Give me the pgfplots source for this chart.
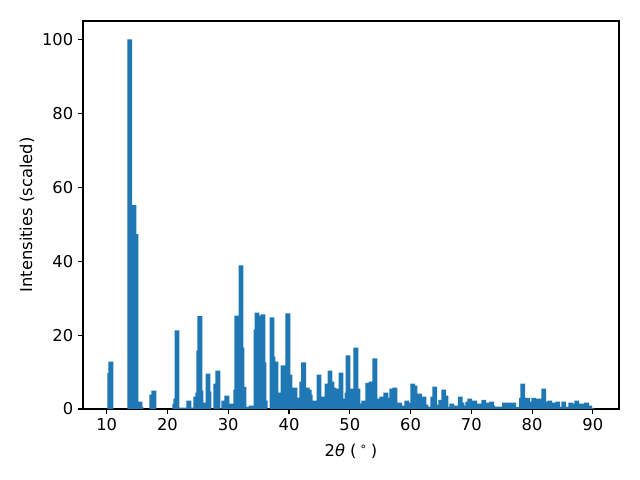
\documentclass[border=0pt]{standalone}
\usepackage{fontspec}
\setmainfont{DejaVu Sans}
\usepackage{pgfplots}
\usepackage{pgfplotstable}
\pgfplotsset{compat=1.18}
\definecolor{c0}{HTML}{1F77B4}

\pgfplotstableread{
x h
10.52 9.7
10.69 12.8
13.79 100
14.49 55.2
14.82 47.3
15.48 2.0
15.64 0.6
17.43 3.9
17.77 5.0
21.21 1.35
21.38 2.8
21.56 21.3
22.37 0.4
22.72 0.4
23.53 2.25
24.30 0.4
24.67 3.34
25.00 4.43
25.17 15.8
25.34 25.1
25.52 5.0
25.85 1.7
26.66 9.6
26.84 4.7
27.97 6.9
28.30 10.4
29.28 2.25
29.78 3.6
30.45 1.44
31.25 5.24
31.42 25.3
32.09 38.9
32.27 16.6
32.60 6.0
33.10 0.6
33.76 0.9
34.56 21.5
34.73 26.1
34.91 25.3
35.72 25.6
35.89 12.6
36.06 2.25
37.20 24.8
37.37 14.2
37.86 12.8
38.19 4.43
39.00 11.8
39.82 25.9
40.16 9.3
40.97 5.8
41.79 3.1
42.12 7.4
42.40 12.6
43.00 5.8
43.30 5.24
43.47 3.9
43.80 1.44
44.12 2.25
44.93 9.3
45.75 3.34
46.24 6.87
46.74 10.4
47.08 7.4
47.41 5.8
48.21 5.5
48.55 9.85
49.36 2.8
49.53 4.43
49.70 14.5
50.51 5.5
51.01 16.6
51.35 5.5
51.52 1.44
52.30 2.25
52.98 7.1
53.48 7.4
54.13 13.7
54.30 0.9
54.46 2.8
55.26 3.34
55.93 4.43
56.10 3.0
56.90 5.5
57.41 5.8
58.23 1.7
58.57 0.9
59.38 2.25
59.56 1.7
60.37 6.87
60.71 6.3
61.52 4.15
62.19 3.34
62.52 1.16
62.85 0.6
63.65 3.34
63.99 6.05
64.17 1.16
64.97 2.5
65.47 5.24
65.81 3.6
65.97 0.6
66.78 1.44
67.45 0.9
68.18 3.34
68.44 1.7
68.77 0.9
69.40 2.0
69.74 2.8
70.56 2.25
71.30 1.44
72.04 2.5
72.85 1.7
73.36 2.0
73.53 0.9
74.33 0.62
74.68 0.62
75.48 1.7
76.28 1.7
76.99 1.7
77.59 0.6
78.28 3.0
78.45 6.87
79.26 3.0
79.47 2.0
80.28 3.0
81.10 2.8
81.92 5.5
82.10 2.0
82.91 2.25
83.72 1.7
84.22 2.0
84.50 0.6
85.21 2.0
86.02 0.6
86.36 1.7
86.70 1.44
87.34 2.25
88.16 1.44
88.98 1.7
89.49 0.9
89.82 0.3
}\peaks
\pgfplotstablesort[sort key=h]{\sortedpeaks}{\peaks}

\begin{document}
\begin{tikzpicture}
\begin{axis}[
  at={(0,0)}, anchor=south west,
  scale only axis, width=5.36in, height=3.88in,
  xmin=6.1, xmax=94.3, ymin=0, ymax=105,
  xtick={10,20,...,90}, ytick={0,20,...,100},
  tick align=outside, major tick length=3.5pt,
  tick style={black, line width=0.8pt},
  xtick pos=bottom, ytick pos=left,
  axis line style={line width=0.8pt},
  /pgf/number format/assume math mode=true,
  ticklabel style={font=\fontsize{11.8}{14}\selectfont},
  every axis x label/.style={at={(axis description cs:0.5,-0.109)}, anchor=center, font=\fontsize{11.8}{14}\selectfont},
  every axis y label/.style={at={(axis description cs:-0.1045,0.5)}, anchor=center, rotate=90, font=\fontsize{11.8}{14}\selectfont},
  xlabel={2\textit{θ} (\hspace{0.2em}\textsuperscript{∘}\hspace{0.2em})},
  ylabel={Intensities (scaled)},
]
\addplot[ybar, bar width=0.8, fill=c0, draw=none] table[x=x, y=h] {\sortedpeaks};
\end{axis}
\path (-0.83in,-0.71in) rectangle (5.57in,4.09in);
\end{tikzpicture}
\end{document}
